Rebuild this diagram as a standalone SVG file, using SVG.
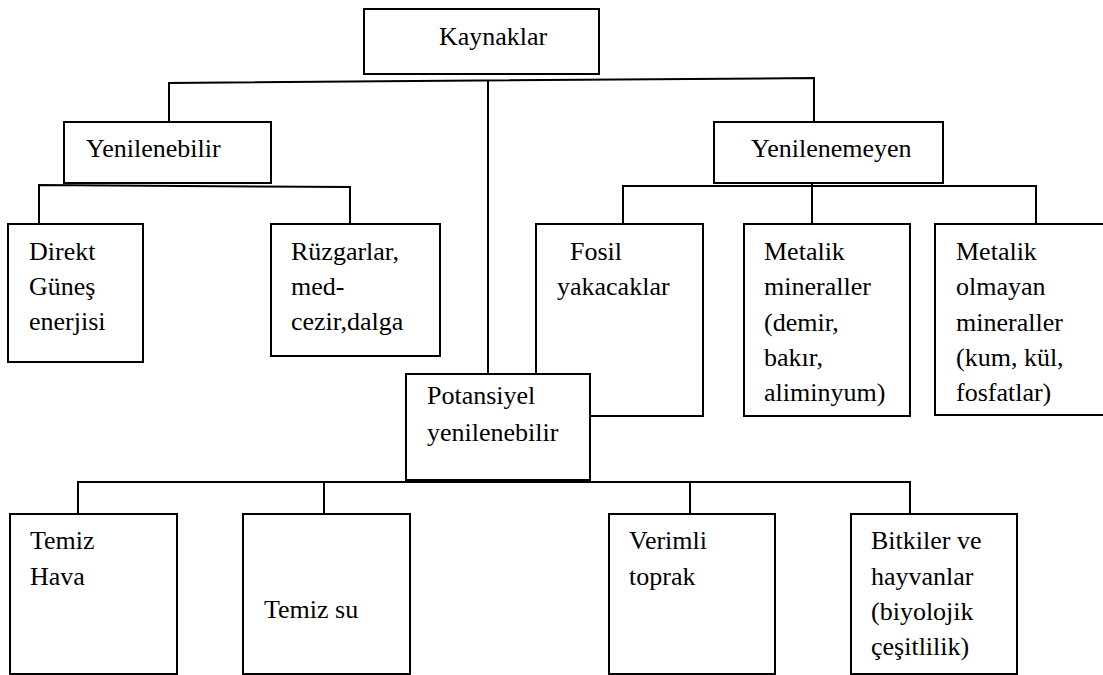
<svg xmlns="http://www.w3.org/2000/svg" width="1103" height="675" viewBox="0 0 1103 675">
<style>
rect{fill:#fff;stroke:#000;stroke-width:2}
text{font-family:'Liberation Serif','Times New Roman',serif;font-size:26px;fill:#000}
#connectors path{fill:none;stroke:#000;stroke-width:2}
</style>
<rect x="0" y="0" width="1103" height="675" style="stroke:none"/>
<g id="connectors">
<path d="M169,122 V83 L814,78 V122"/>
<path d="M488,81 V374"/>
<path d="M39,224 V185 L350,187 V224"/>
<path d="M623,224 V186 H1036 V224 M812,183 V224"/>
<path d="M78,514 V482 H910 V514 M324,482 V514 M690,482 V514"/>
</g>
<g id="kaynaklar"><rect x="364" y="9" width="235" height="65"/><text x="439" y="45">Kaynaklar</text></g>
<g id="yenilenebilir"><rect x="64" y="122" width="207" height="61"/><text x="86" y="157">Yenilenebilir</text></g>
<g id="yenilenemeyen"><rect x="714" y="122" width="229" height="61"/><text x="751" y="157">Yenilenemeyen</text></g>
<g id="direkt"><rect x="8" y="224" width="135" height="138"/><text x="29" y="260">Direkt</text><text x="29" y="295">Güneş</text><text x="29" y="330">enerjisi</text></g>
<g id="ruzgarlar"><rect x="271" y="224" width="169" height="132"/><text x="291" y="260">Rüzgarlar,</text><text x="291" y="295">med-</text><text x="291" y="330">cezir,dalga</text></g>
<g id="fosil"><rect x="536" y="224" width="167" height="192"/><text x="570" y="260">Fosil</text><text x="557" y="295">yakacaklar</text></g>
<g id="metalik"><rect x="744" y="224" width="166" height="192"/><text x="764" y="260">Metalik</text><text x="764" y="295">mineraller</text><text x="764" y="331">(demir,</text><text x="764" y="366">bakır,</text><text x="764" y="401">aliminyum)</text></g>
<g id="metalik-olmayan"><rect x="935" y="224" width="172" height="191"/><text x="956" y="260">Metalik</text><text x="956" y="295">olmayan</text><text x="956" y="331">mineraller</text><text x="956" y="366">(kum, kül,</text><text x="956" y="401">fosfatlar)</text></g>
<g id="potansiyel"><rect x="406" y="374" width="184" height="106"/><text x="427" y="404">Potansiyel</text><text x="427" y="441">yenilenebilir</text></g>
<g id="temiz-hava"><rect x="10" y="514" width="167" height="160"/><text x="30" y="549">Temiz</text><text x="30" y="585">Hava</text></g>
<g id="temiz-su"><rect x="243" y="514" width="167" height="160"/><text x="264" y="618">Temiz su</text></g>
<g id="verimli"><rect x="609" y="514" width="166" height="160"/><text x="629" y="549">Verimli</text><text x="629" y="585">toprak</text></g>
<g id="bitkiler"><rect x="851" y="514" width="166" height="160"/><text x="871" y="549">Bitkiler ve</text><text x="871" y="585">hayvanlar</text><text x="871" y="620">(biyolojik</text><text x="871" y="655">çeşitlilik)</text></g>
</svg>
